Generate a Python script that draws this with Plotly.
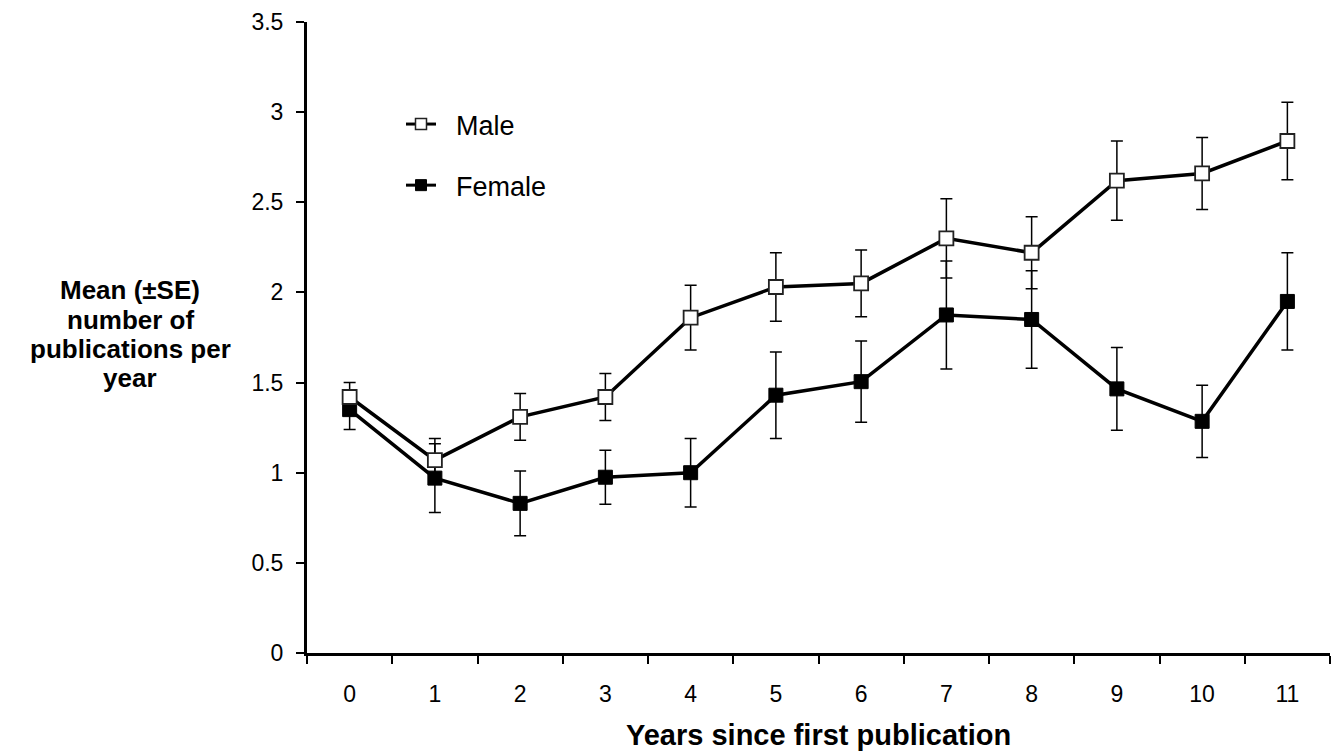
import plotly.graph_objects as go

years = ["0", "1", "2", "3", "4", "5", "6", "7", "8", "9", "10", "11"]
male_mean = [1.42, 1.07, 1.31, 1.42, 1.86, 2.03, 2.05, 2.30, 2.22, 2.62, 2.66, 2.84]
male_se = [0.08, 0.12, 0.13, 0.13, 0.18, 0.19, 0.185, 0.22, 0.20, 0.22, 0.20, 0.215]
female_mean = [1.35, 0.97, 0.83, 0.975, 1.00, 1.43, 1.505, 1.875, 1.85, 1.465, 1.285, 1.95]
female_se = [0.11, 0.19, 0.18, 0.15, 0.19, 0.24, 0.225, 0.30, 0.27, 0.23, 0.20, 0.27]

y_title_lines = ["Mean (±SE)", "number of", "publications per", "year"]
x_title = "Years since first publication"

FONT = "Liberation Sans, Arial, sans-serif"

fig = go.Figure()

err_style = dict(type="data", visible=True, color="black", thickness=1.5, width=6)

fig.add_trace(go.Scatter(
    x=years, y=female_mean, mode="lines+markers", name="Female", showlegend=False,
    line=dict(color="black", width=3.5),
    marker=dict(symbol="square", size=14, color="black", line=dict(color="black", width=1)),
    error_y=dict(array=female_se, **err_style),
))
fig.add_trace(go.Scatter(
    x=years, y=male_mean, mode="lines+markers", name="Male", showlegend=False,
    line=dict(color="black", width=3.5),
    marker=dict(symbol="square", size=14, color="white", line=dict(color="#222", width=1.8)),
    error_y=dict(array=male_se, **err_style),
))

# legend entries
fig.add_trace(go.Scatter(
    x=[None], y=[None], mode="lines+markers", name="\u00a0\u00a0Male", legendgroup="m",
    line=dict(color="black", width=3),
    marker=dict(symbol="square", size=11, color="white", line=dict(color="#222", width=1.5)),
))
fig.add_trace(go.Scatter(
    x=[None], y=[None], mode="lines+markers", name="\u00a0\u00a0Female", legendgroup="f",
    line=dict(color="black", width=3),
    marker=dict(symbol="square", size=11, color="black", line=dict(color="black", width=1)),
))

# y-axis title lines
line_centers_px = [290, 319.5, 349, 378.5]
for txt, ypx in zip(y_title_lines, line_centers_px):
    fig.add_annotation(
        text=f"<b>{txt}</b>", xref="paper", yref="paper",
        x=(130 - 307) / 1023, y=(653 - ypx) / 631,
        xanchor="center", yanchor="middle", showarrow=False, borderpad=0,
        font=dict(family=FONT, size=26, color="black"),
    )

fig.add_annotation(
    text=f"<b>{x_title}</b>", xref="paper", yref="paper",
    x=0.5, y=(653 - 735) / 631, xanchor="center", yanchor="middle",
    showarrow=False, font=dict(family=FONT, size=29, color="black"),
)

fig.update_layout(
    width=1333, height=752,
    margin=dict(l=307, r=3, t=22, b=99),
    paper_bgcolor="white", plot_bgcolor="white",
    font=dict(family=FONT, color="black"),
    showlegend=True,
    legend=dict(
        x=(401 - 307) / 1023, y=(653 - 100) / 631, xanchor="left", yanchor="top",
        font=dict(family=FONT, size=27, color="black"),
        traceorder="grouped", tracegroupgap=23, bgcolor="rgba(0,0,0,0)",
    ),
    xaxis=dict(
        type="category", categoryorder="array", categoryarray=years,
        range=[-0.5, 11.5],
        showline=True, linecolor="black", linewidth=3,
        ticks="outside", tickson="boundaries", ticklen=8, tickwidth=2, tickcolor="black",
        tickfont=dict(family=FONT, size=23, color="black"),
        ticklabelstandoff=18,
        showgrid=False, zeroline=False,
    ),
    yaxis=dict(
        range=[0, 3.5], dtick=0.5, tick0=0,
        showline=True, linecolor="black", linewidth=3,
        ticks="outside", ticklen=8, tickwidth=2, tickcolor="black",
        tickfont=dict(family=FONT, size=23, color="black"),
        ticklabelstandoff=8,
        showgrid=False, zeroline=False,
    ),
)

fig.write_html(
    "out.html",
    config={"displayModeBar": False},
    post_script="document.body.style.margin='0';document.body.style.overflow='hidden';",
)
